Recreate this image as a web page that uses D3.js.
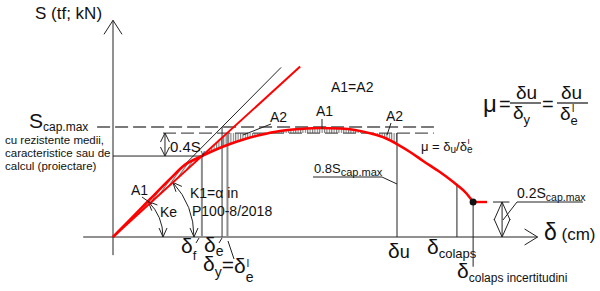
<!DOCTYPE html>
<html>
<head>
<meta charset="utf-8">
<script src="https://cdn.jsdelivr.net/npm/d3@7"></script>
<style>
  body { margin: 0; background: #fff; }
  svg { display: block; font-family: "Liberation Sans", Arial, sans-serif; }
</style>
</head>
<body>
<svg id="drawing_region"></svg>
<script>
// capacity curve S(δ), δ in cm (schematic), S relative to Scap.max
const curveDelta = [0, 0.60, 1.30, 2.01, 2.54, 3.13, 3.59, 4.12, 4.65, 5.18, 5.88, 6.59, 7.29, 7.99, 8.52, 9.15, 9.58, 10.0, 10.46, 10.92, 11.51, 12.11, 12.43, 12.68];
const curveS     = [0, 0.158, 0.343, 0.528, 0.658, 0.736, 0.791, 0.845, 0.891, 0.927, 0.964, 0.982, 0.991, 0.986, 0.973, 0.936, 0.900, 0.845, 0.773, 0.691, 0.591, 0.473, 0.400, 0.318];
const tailDelta  = [12.68, 13.17];

// characteristic displacements
const markNames = ["δf", "δe", "δy", "δu", "δcolaps", "δcolaps incertitudini"];
const markDelta = [3.13, 3.84, 4.03, 10.0, 12.11, 12.68];

// force levels
const levelNames  = ["Scap.max", "Sy", "Sf", "Scolaps"];
const levelValues = [1.0, 0.945, 0.736, 0.318];

// stiffness lines (end of drawn segment, in δ)
const stiffNames = ["Ke", "K1"];
const stiffEnd   = [5.92, 6.59];

// axes extents
const xAxisExtent = [-1.05, 14.95];
const yAxisExtent = [-0.165, 1.97];

const W = 600, H = 291;
const svg = d3.select('#drawing_region').attr('width', W).attr('height', H);

const x = d3.scaleLinear().domain([0, 10]).range([113, 397]);
const y = d3.scaleLinear().domain([0, 1]).range([237, 127]);

const [dF, dE, dY, dU, dC, dCI] = markDelta;
const [sMax, sY, sF, sC] = levelValues;
const ke = sMax / dE;          // initial stiffness
const k1 = sF / dF;            // secant stiffness

// hatch patterns
const defs = svg.append('defs');
const pv = defs.append('pattern').attr('id', 'hatchV').attr('patternUnits', 'userSpaceOnUse')
  .attr('width', 2.4).attr('height', 8);
pv.append('line').attr('x1', 0.6).attr('x2', 0.6).attr('y1', 0).attr('y2', 8)
  .attr('stroke', '#333').attr('stroke-width', 0.8);
const pd = defs.append('pattern').attr('id', 'hatchD').attr('patternUnits', 'userSpaceOnUse')
  .attr('width', 2.6).attr('height', 8).attr('patternTransform', 'rotate(35)');
pd.append('line').attr('x1', 0.6).attr('x2', 0.6).attr('y1', 0).attr('y2', 8)
  .attr('stroke', '#333').attr('stroke-width', 0.8);

const g = svg.append('g');

function seg(p, q, stroke, w, dash) {
  const l = g.append('line')
    .attr('x1', x(p[0])).attr('y1', y(p[1]))
    .attr('x2', x(q[0])).attr('y2', y(q[1]))
    .attr('stroke', stroke).attr('stroke-width', w);
  if (dash) l.attr('stroke-dasharray', dash);
  return l;
}
function segPx(x1, y1, x2, y2, stroke, w) {
  g.append('line').attr('x1', x1).attr('y1', y1).attr('x2', x2).attr('y2', y2)
    .attr('stroke', stroke || '#222').attr('stroke-width', w || 1);
}
function chevron(tx, ty, ux, uy, len, half, stroke, w) {
  const nx = -uy, ny = ux;
  const pts = [[tx - ux * len + nx * half, ty - uy * len + ny * half], [tx, ty],
               [tx - ux * len - nx * half, ty - uy * len - ny * half]];
  g.append('path').attr('d', d3.line()(pts)).attr('fill', 'none')
    .attr('stroke', stroke || '#222').attr('stroke-width', w || 1);
}
function rich(px, py, parts, anchor) {
  const t = g.append('text').attr('x', px).attr('y', py).attr('fill', '#111')
    .attr('text-anchor', anchor || 'start');
  parts.forEach(p => {
    t.append('tspan').text(p.t).style('font-size', p.s + 'px')
      .attr('dy', p.dy || 0).attr('dx', p.dx || 0);
  });
  return t;
}

// sample the smooth capacity curve
const curvePts = curveDelta.map((d, i) => [d, curveS[i]]);
const curveGen = d3.line().curve(d3.curveMonotoneX).x(d => x(d[0])).y(d => y(d[1]));
const tmp = svg.append('path').attr('d', curveGen(curvePts)).attr('fill', 'none');
const node = tmp.node();
const L = node.getTotalLength();
const samples = d3.range(0, L + 0.5, 0.5).map(l => {
  const p = node.getPointAtLength(Math.min(l, L));
  return [p.x, p.y];
});
tmp.remove();

// hatched areas A1 / A2
const lowerPoly = samples.filter(p => p[0] <= x(dF)).concat([[x(dF), y(sF)], [x(0), y(0)]]);
g.append('path').attr('d', d3.line()(lowerPoly) + 'Z').attr('fill', 'url(#hatchD)');
const upperPoly = [[x(dF), y(sF)], [x(sY / k1), y(sY)], [x(dU), y(sY)]]
  .concat(samples.filter(p => p[0] >= x(dF) && p[0] <= x(dU)).reverse());
g.append('path').attr('d', d3.line()(upperPoly) + 'Z').attr('fill', 'url(#hatchV)');

// axes
seg([xAxisExtent[0], 0], [xAxisExtent[1], 0], '#222', 1);
seg([0, yAxisExtent[0]], [0, yAxisExtent[1]], '#222', 1);
chevron(x(xAxisExtent[1]), y(0), 1, 0, 13, 8);
chevron(x(0), y(yAxisExtent[1]), 0, -1, 14, 9);

// level lines
seg([-0.56, sMax], [11.3, sMax], '#7a7a7a', 2, '13,5');
seg([1.76, sY], [11.3, sY], '#555', 1.2, '13,5');
seg([0, sF], [dF, sF], '#222', 1);

// vertical markers
seg([dF, sF], [dF, 0], '#8c8c8c', 2);
seg([dE, sMax], [dE, 0], '#333', 1);
seg([dY, sY], [dY, 0], '#8c8c8c', 2);
seg([dU, sY], [dU, 0], '#222', 1);
seg([dC, curveS[curveDelta.indexOf(dC)]], [dC, 0], '#222', 1);
seg([dCI, sC], [dCI, -0.27], '#222', 1);

// stiffness lines
seg([0, 0], [stiffEnd[0], ke * stiffEnd[0]], '#222', 1);

// angle arcs
function angleArc(r, aDeg) {
  const cx = x(0), cy = y(0), a = aDeg * Math.PI / 180;
  const p0 = [cx + r, cy], p1 = [cx + r * Math.cos(a), cy - r * Math.sin(a)];
  g.append('path').attr('d', `M${p0[0]},${p0[1]} A${r},${r} 0 0 0 ${p1[0]},${p1[1]}`)
    .attr('fill', 'none').attr('stroke', '#222').attr('stroke-width', 1);
  chevron(p0[0], p0[1], 0, 1, 9, 4);
  chevron(p1[0], p1[1], -Math.sin(a), -Math.cos(a), 9, 4);
}
const pxSlope = k => Math.atan(k * (y(0) - y(1)) / (x(1) - x(0))) * 180 / Math.PI;
angleArc(50, pxSlope(ke));
angleArc(81, pxSlope(k1));

// dimension 0.4S
const dimA = 1.83;
seg([dimA, sY], [dimA, sF], '#222', 1);
chevron(x(dimA), y(sY), 0, -1, 9, 4.5);
chevron(x(dimA), y(sF), 0, 1, 9, 4.5);

// dimension 0.2Scap.max
const dimB = 13.70;
seg([dimB, sC], [dimB, 0], '#222', 1);
seg([dimB - 0.32, sC], [dimB + 0.26, sC], '#222', 1);
chevron(x(dimB), y(sC), 0, -1, 18, 8);
chevron(x(dimB), y(0), 0, 1, 18, 8);

// red lines
g.append('path').attr('d', d3.line()([[x(0), y(0)], [x(stiffEnd[1]), y(k1 * stiffEnd[1])]]))
  .attr('stroke', '#f00').attr('stroke-width', 2).attr('fill', 'none');
g.append('path').attr('d', curveGen(curvePts))
  .attr('stroke', '#f00').attr('stroke-width', 2.6).attr('fill', 'none');
g.append('path').attr('d', curveGen(tailDelta.map(d => [d, sC])))
  .attr('stroke', '#f00').attr('stroke-width', 2.4).attr('fill', 'none');
g.append('circle').attr('cx', x(dCI)).attr('cy', y(sC)).attr('r', 3.5).attr('fill', '#111');

// leaders
segPx(322, 119, 322, 129);
segPx(391, 123, 387, 135);
segPx(271, 124, 243, 135);
segPx(142, 197, 152, 204);
segPx(313, 177, 382, 177); segPx(382, 177, 397, 184);
segPx(517, 202, 583, 202); segPx(517, 202, 503, 220);
segPx(196, 243, 199, 238);
segPx(219, 243, 222, 238);
segPx(234, 259, 228, 241);

// axis titles
rich(35, 19, [{t: 'S (tf; kN)', s: 17}]);
rich(544, 240, [{t: 'δ', s: 23}, {t: ' (cm)', s: 17}]);

// Scap.max label
rich(29, 128, [{t: 'S', s: 21}, {t: 'cap.max', s: 12, dy: 3}]);
rich(5, 144, [{t: 'cu rezistente medii,', s: 11.5}]);
rich(5, 157, [{t: 'caracteristice sau de', s: 11.5}]);
rich(5, 170, [{t: 'calcul (proiectare)', s: 11.5}]);

rich(170, 152, [{t: '0.4S', s: 15}, {t: 'y', s: 8, dy: 3}]);
rich(331, 92, [{t: 'A1=A2', s: 14}]);
rich(316, 116, [{t: 'A1', s: 14}]);
rich(386, 121, [{t: 'A2', s: 14}]);
rich(270, 122, [{t: 'A2', s: 14}]);
rich(131, 195, [{t: 'A1', s: 14}]);
rich(160, 217, [{t: 'Ke', s: 14}]);
rich(190, 198, [{t: 'K1=α in', s: 14}]);
rich(192, 216, [{t: 'P100-8/2018', s: 14}]);

rich(314, 173, [{t: '0.8S', s: 13}, {t: 'cap.max', s: 11, dy: 3}]);
rich(517, 198, [{t: '0.2S', s: 14}, {t: 'cap.max', s: 10.5, dy: 3}]);
rich(421, 151, [{t: 'μ = δ', s: 13}, {t: 'u', s: 10, dy: 2}, {t: '/δ', s: 13, dy: -2},
                {t: 'e', s: 10, dy: 2}, {t: 'I', s: 8, dx: -5, dy: -9}]);

// ductility formula
rich(483, 112, [{t: 'μ', s: 24}]);
rich(499, 111, [{t: '=', s: 20}]);
segPx(510, 103, 541, 103, '#111', 1.2);
rich(516, 99, [{t: 'δu', s: 19}]);
rich(513, 119, [{t: 'δ', s: 19}, {t: 'y', s: 13, dy: 5}]);
rich(542, 111, [{t: '=', s: 20}]);
segPx(557, 103, 588, 103, '#111', 1.2);
rich(561, 99, [{t: 'δu', s: 19}]);
rich(560, 120, [{t: 'δ', s: 19}, {t: 'e', s: 13, dy: 5}, {t: 'I', s: 10, dx: -6, dy: -13}]);

// δ markers
rich(181, 253, [{t: 'δ', s: 21}, {t: 'f', s: 13, dy: 7}]);
rich(204, 252, [{t: 'δ', s: 21}, {t: 'e', s: 14, dy: 4}]);
rich(203, 271, [{t: 'δ', s: 21}, {t: 'y', s: 14, dy: 6}, {t: '=', s: 21, dy: -5}, {t: 'δ', s: 21, dy: 1},
                {t: 'e', s: 14, dy: 9}, {t: 'I', s: 10, dx: -7, dy: -15}]);
rich(388, 258, [{t: 'δ', s: 21}, {t: 'u', s: 18}]);
rich(427, 254, [{t: 'δ', s: 21}, {t: 'colaps', s: 13, dy: 4}]);
rich(457, 278, [{t: 'δ', s: 21}, {t: 'colaps incertitudini', s: 12, dy: 4}]);
</script>
</body>
</html>
